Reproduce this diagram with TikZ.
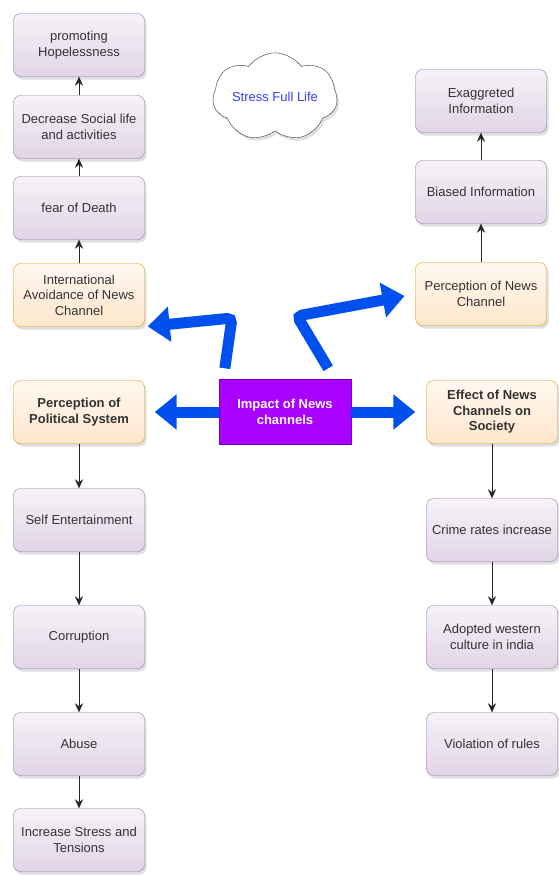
\documentclass[tikz,border=0pt]{standalone}
\usepackage{fontspec}
\setmainfont{Liberation Sans}
\usetikzlibrary{arrows.meta,shapes.symbols,shadows}
\definecolor{lilac}{HTML}{E1D5E7}
\definecolor{lilacline}{HTML}{9673A6}
\definecolor{peach}{HTML}{FFE6CC}
\definecolor{peachline}{HTML}{D79B00}
\definecolor{impfill}{HTML}{AA00FF}
\definecolor{impline}{HTML}{7700CC}
\definecolor{bluearrow}{HTML}{0050EF}
\definecolor{stressblue}{HTML}{3B3BFF}
\definecolor{txt}{HTML}{333333}
\begin{document}
\begin{tikzpicture}[x=1pt,y=-1pt,
  box/.style={rectangle, rounded corners=7pt, minimum width=131pt, minimum height=63pt, align=center, text=txt,
    font=\fontsize{13}{15.5}\selectfont, drop shadow={shadow xshift=2pt, shadow yshift=-3pt, opacity=0.25}},
  lbox/.style={box, draw=lilacline, top color=lilac!30, bottom color=lilac},
  obox/.style={box, draw=peachline, top color=peach!30, bottom color=peach},
  link/.style={draw=black!85, -{Stealth[length=9pt,width=8pt,inset=3pt]}},
  fat/.style={draw=bluearrow, line width=11pt, rounded corners=5pt, -{Triangle[length=22pt,width=34pt]}}]
\useasboundingbox (0,0) rectangle (559,875);
% left column, upper part
\node[lbox] (hope) at (79,45){promoting\\Hopelessness};
\node[lbox] (social) at (79,127){Decrease Social life\\and activities};
\node[lbox] (fear) at (79,208){fear of Death};
\node[obox] (avoid) at (79,295){International\\Avoidance of News\\Channel};
\draw[link](avoid) -- (fear);
\draw[link](fear) -- (social);
\draw[link](social) -- (hope);
% cloud
\node[cloud, cloud puffs=7, cloud puff arc=110, aspect=1.8, draw=black!80, fill=white, minimum width=96pt, minimum height=46pt,
  inner sep=0pt, drop shadow={shadow xshift=2pt, shadow yshift=-3pt, opacity=0.25}, text=stressblue,
  font=\fontsize{13}{15.5}\selectfont] (cloudy) at (275,97){Stress Full Life};
% right column, upper part
\node[lbox] (exag) at (481,101){Exaggreted\\Information};
\node[lbox] (biased) at (481,192){Biased Information};
\node[obox] (percep) at (481,294){Perception of News\\Channel};
\draw[link](percep) -- (biased);
\draw[link](biased) -- (exag);
% middle row
\node[rectangle, draw=impline, fill=impfill, minimum width=132pt, minimum height=65pt, align=center, text=white,
  font=\fontsize{13}{15.5}\selectfont\bfseries] (imp) at (285,412){Impact of News\\channels};
\node[obox, font=\fontsize{13}{15.5}\selectfont\bfseries] (polit) at (79,412){Perception of\\Political System};
\node[obox, font=\fontsize{13}{15.5}\selectfont\bfseries] (effect) at (492,412){Effect of News\\Channels on\\Society};
\draw[fat, shorten >=10pt](imp.west) -- (polit.east);
\draw[fat, shorten >=11pt](imp.east) -- (effect.west);
\draw[fat, shorten >=3pt]([shift={(6,-11)}]imp.north west) -- (232,318) -- (avoid.south east);
\draw[fat, shorten >=11pt]([shift={(-23,-11)}]imp.north east) -- (297,316) -- (percep.west);
% left column, lower part
\node[lbox] (self) at (79,520){Self Entertainment};
\node[lbox] (corrupt) at (79,637){Corruption};
\node[lbox] (abuse) at (79,744){Abuse};
\node[lbox] (tension) at (79,840){Increase Stress and\\Tensions};
\draw[link](polit) -- (self);
\draw[link](self) -- (corrupt);
\draw[link](corrupt) -- (abuse);
\draw[link](abuse) -- (tension);
% right column, lower part
\node[lbox] (crime) at (492,530){Crime rates increase};
\node[lbox] (adopt) at (492,637){Adopted western\\culture in india};
\node[lbox] (viol) at (492,744){Violation of rules};
\draw[link](effect) -- (crime);
\draw[link](crime) -- (adopt);
\draw[link](adopt) -- (viol);
\end{tikzpicture}
\end{document}
